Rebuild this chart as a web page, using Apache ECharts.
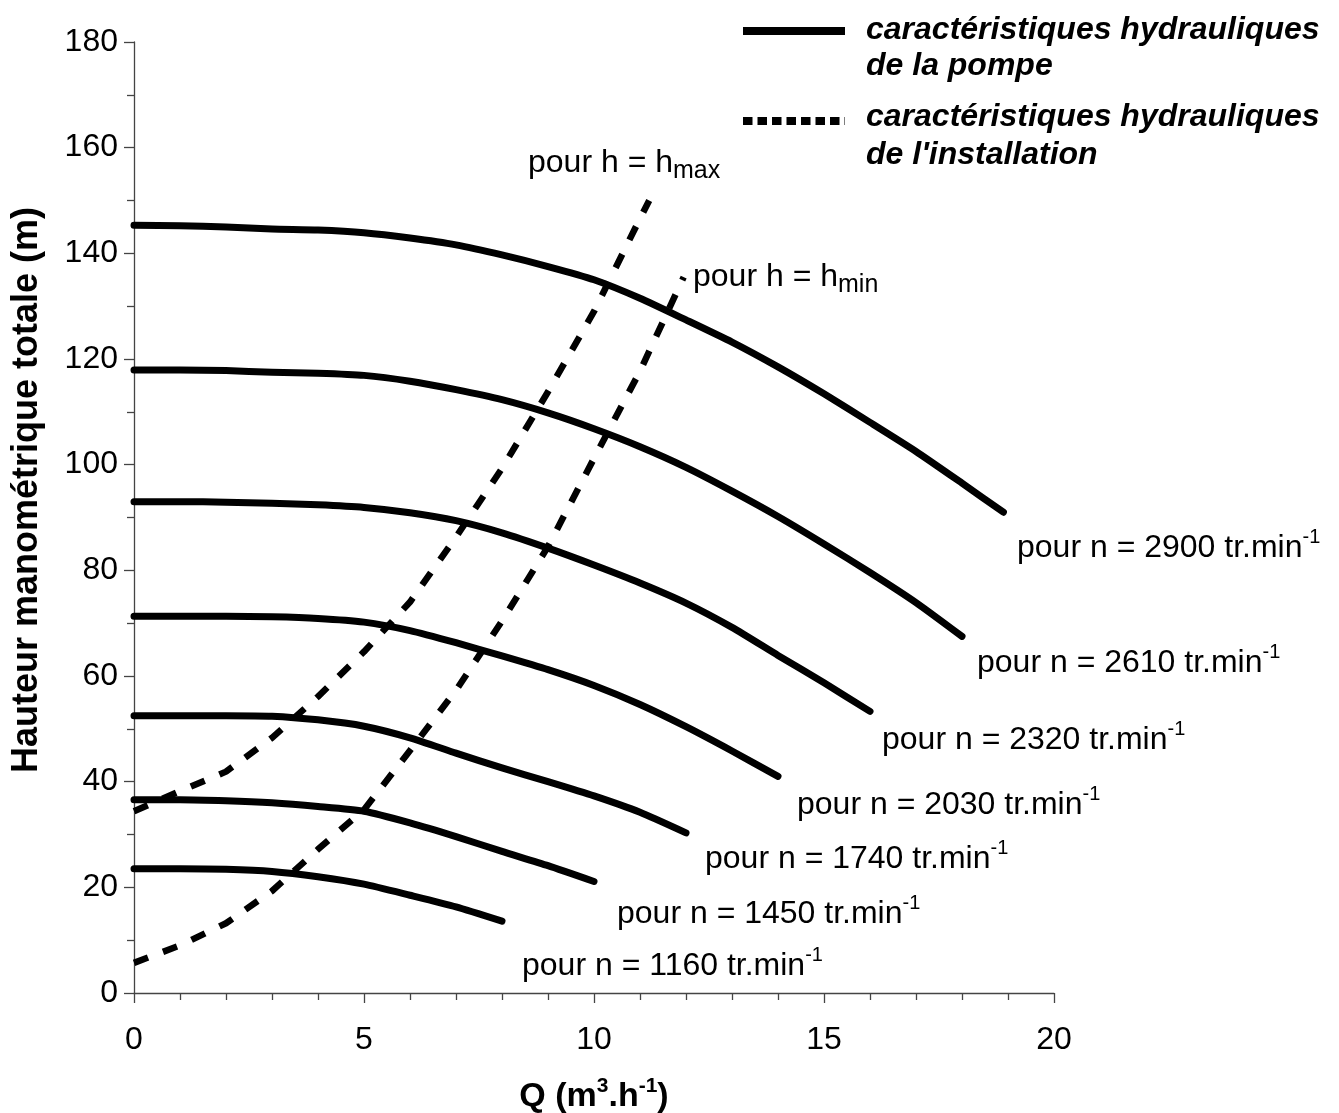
<!DOCTYPE html>
<html><head><meta charset="utf-8">
<script src="https://cdn.jsdelivr.net/npm/echarts@6/dist/echarts.min.js"></script>
<style>html,body{margin:0;padding:0;background:#fff;}#c{width:1339px;height:1113px;}</style>
</head><body><div id="c"></div>
<script>
// Pump characteristic curves (Q in m3/h, H in m)
const q1160 = [0,1,2,3,4,5,6,7,8];
const h1160 = [23.5,23.5,23.4,23.0,22.0,20.6,18.5,16.3,13.6];
const q1450 = [0,1,2,3,4,5,6,7,8,9,10];
const h1450 = [36.6,36.6,36.4,36.0,35.3,34.4,32.2,29.6,26.8,24.1,21.1];
const q1740 = [0,1,2,3,4,5,6,7,8,9,10,11,12];
const h1740 = [52.5,52.5,52.5,52.4,51.7,50.5,48.3,45.4,42.6,40.0,37.3,34.2,30.3];
const q2030 = [0,1,2,3,4,5,6,7,8,9,10,11,12,13,14];
const h2030 = [71.3,71.3,71.3,71.2,70.9,70.2,68.6,66.3,63.8,61.2,58.2,54.6,50.4,45.8,41.0];
const q2320 = [0,1,2,3,4,5,6,7,8,9,10,11,12,13,14,15,16];
const h2320 = [93.0,93.0,92.9,92.7,92.4,91.9,90.9,89.4,87.1,84.2,81.0,77.6,73.8,69.2,63.9,58.7,53.3];
const q2610 = [0,1,2,3,4,5,6,7,8,9,10,11,12,13,14,15,16,17,18];
const h2610 = [117.9,117.9,117.8,117.5,117.3,116.9,115.8,114.2,112.3,109.8,106.8,103.4,99.5,95.0,90.2,85.0,79.6,73.9,67.5];
const q2900 = [0,1,2,3,4,5,6,7,8,9,10,11,12,13,14,15,16,17,18,18.9];
const h2900 = [145.3,145.2,145.0,144.6,144.4,143.9,142.9,141.6,139.7,137.5,135.0,131.5,127.4,123.2,118.5,113.4,108.0,102.5,96.5,91.0];

// Installation characteristic curves
const qHmax = [0,1,2,3,4,5,6,7,8,9,10,11,11.2];
const hHmax = [34.4,38.2,41.9,48.3,56.1,64.6,74.0,86.3,99.3,113.8,129.0,146.6,150.0];
const qHmin = [0,1,2,3,4,5,6,7,8,9,10,11,11.95];
const hHmin = [5.7,9.0,13.2,19.3,27.2,34.7,45.9,57.3,70.4,84.5,101.2,117.7,135.5];

const speedLabels = ['1160','1450','1740','2030','2320','2610','2900'];
const legendTexts = ['caractéristiques hydrauliques\nde la pompe', "caractéristiques hydrauliques\nde l'installation"];

const FONT = "'Liberation Sans', Arial, sans-serif";
const pair = (q, h) => q.map((v, i) => [v, h[i]]);

const pumpData = [pair(q1160,h1160), pair(q1450,h1450), pair(q1740,h1740), pair(q2030,h2030),
                  pair(q2320,h2320), pair(q2610,h2610), pair(q2900,h2900)];

const series = [];
pumpData.forEach((d, i) => {
  series.push({
    type: 'line', name: 'n' + speedLabels[i], data: d, showSymbol: false, symbol: 'none',
    smooth: 0.2,
    lineStyle: { color: '#000', width: 7, cap: 'round', join: 'round' },
    z: 3, silent: true, animation: false
  });
});
[[qHmax,hHmax],[qHmin,hHmin]].forEach(([q,h]) => {
  series.push({
    type: 'line', data: pair(q,h), showSymbol: false, symbol: 'none',
    lineStyle: { color: '#000', width: 6.5, type: [15, 16], cap: 'butt' },
    z: 2, silent: true, animation: false
  });
});

const rich = {
  sup: { fontSize: 20, fontFamily: FONT, color: '#000', verticalAlign: 'top', lineHeight: 42 },
  sub: { fontSize: 25, fontFamily: FONT, color: '#000', verticalAlign: 'bottom', lineHeight: 42 },
  m: { fontSize: 32, fontFamily: FONT, color: '#000', lineHeight: 42 }
};

function txt(x, y, content) {
  return { type: 'text', x: x, y: y, z: 10,
    style: { text: content, rich: rich, fill: '#000', fontSize: 32, fontFamily: FONT,
             align: 'left', verticalAlign: 'middle' } };
}

const labelPos = [[522,966],[617,914],[705,859],[797,805],[882,740],[977,663],[1017,548]];
const graphics = [];
speedLabels.forEach((s, i) => {
  graphics.push(txt(labelPos[i][0], labelPos[i][1], '{m|pour n = ' + s + ' tr.min}{sup|-1}'));
});
graphics.push(txt(528, 163, '{m|pour h = h}{sub|max}'));
graphics.push(txt(693, 277, '{m|pour h = h}{sub|min}'));

// legend
graphics.push({ type: 'line', shape: { x1: 743, y1: 31, x2: 845, y2: 31 }, style: { stroke: '#000', lineWidth: 8 } });
graphics.push({ type: 'line', shape: { x1: 743, y1: 121, x2: 845, y2: 121 }, style: { stroke: '#000', lineWidth: 8, lineDash: [9.5, 5] } });
graphics.push({ type: 'text', x: 866, y: 48, style: { text: legendTexts[0], fontSize: 32, fontWeight: 'bold', fontStyle: 'italic', fontFamily: FONT, fill: '#000', align: 'left', verticalAlign: 'middle', lineHeight: 36 } });
graphics.push({ type: 'text', x: 866, y: 136, style: { text: legendTexts[1], fontSize: 32, fontWeight: 'bold', fontStyle: 'italic', fontFamily: FONT, fill: '#000', align: 'left', verticalAlign: 'middle', lineHeight: 38 } });

// y axis title
graphics.push({ type: 'text', x: 27, y: 490, rotation: Math.PI / 2, style: { text: 'Hauteur manométrique totale (m)', fontSize: 36, fontWeight: 'bold', fontFamily: FONT, fill: '#000', align: 'center', verticalAlign: 'middle' } });

const axisCol = '#444';
const option = {
  backgroundColor: '#fff',
  animation: false,
  grid: { left: 134, top: 42, width: 920, height: 951, containLabel: false, outerBoundsMode: 'none' },
  xAxis: {
    type: 'value', min: 0, max: 20, interval: 5,
    axisLine: { show: true, onZero: false, lineStyle: { color: axisCol, width: 1.3 } },
    axisTick: { show: true, inside: false, length: 10, lineStyle: { color: axisCol, width: 1.3 } },
    minorTick: { show: true, splitNumber: 5, length: 7, lineStyle: { color: axisCol, width: 1.3 } },
    splitLine: { show: false },
    axisLabel: { fontSize: 32, fontFamily: FONT, color: '#000', margin: 31 },
    name: '{b|Q (m}{bs|3}{b|.h}{bs|-1}{b|)}',
    nameLocation: 'middle', nameGap: 83,
    nameTextStyle: { rich: {
      b: { fontSize: 34, fontWeight: 'bold', fontFamily: FONT, color: '#000', lineHeight: 42 },
      bs: { fontSize: 21, fontWeight: 'bold', fontFamily: FONT, color: '#000', verticalAlign: 'top', lineHeight: 42 }
    } }
  },
  yAxis: {
    type: 'value', min: 0, max: 180, interval: 20,
    axisLine: { show: true, onZero: false, lineStyle: { color: axisCol, width: 1.3 } },
    axisTick: { show: true, inside: false, length: 10, lineStyle: { color: axisCol, width: 1.3 } },
    minorTick: { show: true, splitNumber: 2, length: 7, lineStyle: { color: axisCol, width: 1.3 } },
    splitLine: { show: false },
    axisLabel: { fontSize: 32, fontFamily: FONT, color: '#000', margin: 16 }
  },
  series: series,
  graphic: graphics
};
const chart = echarts.init(document.getElementById('c'), null, { renderer: 'canvas' });
chart.setOption(option);
</script>
</body></html>
